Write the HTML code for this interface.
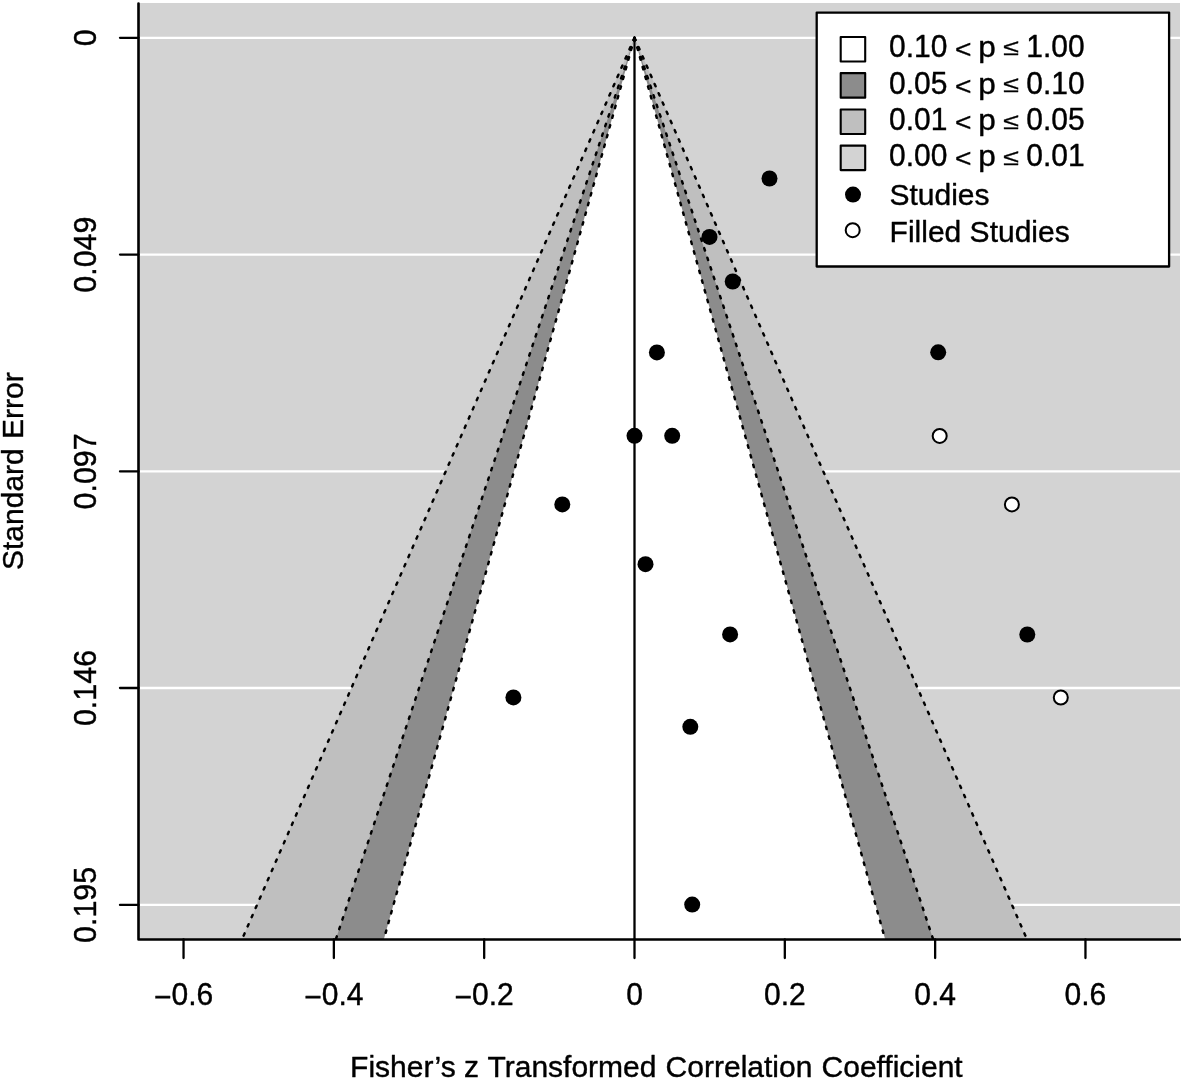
<!DOCTYPE html>
<html><head><meta charset="utf-8"><title>Funnel plot</title>
<style>
html,body{margin:0;padding:0;background:#fff;}
body{width:1181px;height:1078px;overflow:hidden;}
svg{display:block;will-change:transform;}
text{font-family:"Liberation Sans",sans-serif;font-size:30px;fill:#000;stroke:#000;stroke-width:0.4px;stroke-linejoin:round;}
</style></head><body>
<svg width="1181" height="1078" viewBox="0 0 1181 1078">
<rect x="0" y="0" width="1181" height="1078" fill="#fff"/>
<rect x="138.5" y="3" width="1041.5" height="936.3" fill="#d3d3d3"/>
<line x1="138.5" y1="37.8" x2="1180" y2="37.8" stroke="#fff" stroke-width="2.3"/>
<line x1="138.5" y1="254.6" x2="1180" y2="254.6" stroke="#fff" stroke-width="2.3"/>
<line x1="138.5" y1="471.4" x2="1180" y2="471.4" stroke="#fff" stroke-width="2.3"/>
<line x1="138.5" y1="688" x2="1180" y2="688" stroke="#fff" stroke-width="2.3"/>
<line x1="138.5" y1="904.9" x2="1180" y2="904.9" stroke="#fff" stroke-width="2.3"/>
<polygon points="634.5,37.8 242.01,939.3 1026.99,939.3" fill="#bfbfbf"/>
<polygon points="634.5,37.8 335.84,939.3 933.16,939.3" fill="#8c8c8c"/>
<polygon points="634.5,37.8 383.86,939.3 885.14,939.3" fill="#ffffff"/>
<line x1="634.5" y1="37.8" x2="242.01" y2="939.3" stroke="#000" stroke-width="2.45" stroke-dasharray="2.52 7.55" stroke-linecap="round"/>
<line x1="634.5" y1="37.8" x2="1026.99" y2="939.3" stroke="#000" stroke-width="2.45" stroke-dasharray="2.52 7.55" stroke-linecap="round"/>
<line x1="634.5" y1="37.8" x2="335.84" y2="939.3" stroke="#000" stroke-width="2.45" stroke-dasharray="2.52 7.55" stroke-linecap="round"/>
<line x1="634.5" y1="37.8" x2="933.16" y2="939.3" stroke="#000" stroke-width="2.45" stroke-dasharray="2.52 7.55" stroke-linecap="round"/>
<line x1="634.5" y1="37.8" x2="383.86" y2="939.3" stroke="#000" stroke-width="2.45" stroke-dasharray="2.52 7.55" stroke-linecap="round"/>
<line x1="634.5" y1="37.8" x2="885.14" y2="939.3" stroke="#000" stroke-width="2.45" stroke-dasharray="2.52 7.55" stroke-linecap="round"/>
<line x1="634.5" y1="37.8" x2="634.5" y2="939.3" stroke="#000" stroke-width="2.3"/>
<path d="M138.5,3.6 L138.5,939.45 L1180,939.45" fill="none" stroke="#000" stroke-width="2.6" stroke-linejoin="round" stroke-linecap="round"/>
<line x1="120" y1="37.8" x2="138.5" y2="37.8" stroke="#000" stroke-width="2.3" stroke-linecap="round"/>
<line x1="120" y1="254.6" x2="138.5" y2="254.6" stroke="#000" stroke-width="2.3" stroke-linecap="round"/>
<line x1="120" y1="471.4" x2="138.5" y2="471.4" stroke="#000" stroke-width="2.3" stroke-linecap="round"/>
<line x1="120" y1="688" x2="138.5" y2="688" stroke="#000" stroke-width="2.3" stroke-linecap="round"/>
<line x1="120" y1="904.9" x2="138.5" y2="904.9" stroke="#000" stroke-width="2.3" stroke-linecap="round"/>
<line x1="183.54" y1="939.3" x2="183.54" y2="958" stroke="#000" stroke-width="2.3" stroke-linecap="round"/>
<line x1="333.86" y1="939.3" x2="333.86" y2="958" stroke="#000" stroke-width="2.3" stroke-linecap="round"/>
<line x1="484.18" y1="939.3" x2="484.18" y2="958" stroke="#000" stroke-width="2.3" stroke-linecap="round"/>
<line x1="634.50" y1="939.3" x2="634.50" y2="958" stroke="#000" stroke-width="2.3" stroke-linecap="round"/>
<line x1="784.82" y1="939.3" x2="784.82" y2="958" stroke="#000" stroke-width="2.3" stroke-linecap="round"/>
<line x1="935.14" y1="939.3" x2="935.14" y2="958" stroke="#000" stroke-width="2.3" stroke-linecap="round"/>
<line x1="1085.46" y1="939.3" x2="1085.46" y2="958" stroke="#000" stroke-width="2.3" stroke-linecap="round"/>
<text transform="translate(153.93,1007.85) scale(1,1.06)" text-anchor="start">−</text>
<text transform="translate(171.45,1005.15) scale(1,1.02)" text-anchor="start">0.6</text>
<text transform="translate(304.25,1007.85) scale(1,1.06)" text-anchor="start">−</text>
<text transform="translate(321.77,1005.15) scale(1,1.02)" text-anchor="start">0.4</text>
<text transform="translate(454.57,1007.85) scale(1,1.06)" text-anchor="start">−</text>
<text transform="translate(472.09,1005.15) scale(1,1.02)" text-anchor="start">0.2</text>
<text transform="translate(634.5,1005.15) scale(1,1.02)" text-anchor="middle">0</text>
<text transform="translate(784.82,1005.15) scale(1,1.02)" text-anchor="middle">0.2</text>
<text transform="translate(935.14,1005.15) scale(1,1.02)" text-anchor="middle">0.4</text>
<text transform="translate(1085.46,1005.15) scale(1,1.02)" text-anchor="middle">0.6</text>
<text transform="translate(95.5,37.8) rotate(-90) scale(1.015,1.02)" text-anchor="middle">0</text>
<text transform="translate(95.5,254.6) rotate(-90) scale(1.015,1.02)" text-anchor="middle">0.049</text>
<text transform="translate(95.5,471.4) rotate(-90) scale(1.015,1.02)" text-anchor="middle">0.097</text>
<text transform="translate(95.5,688) rotate(-90) scale(1.015,1.02)" text-anchor="middle">0.146</text>
<text transform="translate(95.5,904.9) rotate(-90) scale(1.015,1.02)" text-anchor="middle">0.195</text>
<text transform="translate(350.04,1076.90) scale(1,0.995)" xml:space="preserve">F</text><text transform="translate(368.45,1076.90) scale(1,0.985)" xml:space="preserve">isher’s z </text><text transform="translate(487.43,1076.90) scale(1,0.995)" xml:space="preserve">T</text><text transform="translate(504.73,1076.90) scale(1,0.985)" xml:space="preserve">ransformed </text><text transform="translate(665.60,1076.90) scale(1,0.995)" xml:space="preserve">C</text><text transform="translate(687.36,1076.90) scale(1,0.985)" xml:space="preserve">orrelation </text><text transform="translate(821.43,1076.90) scale(1,0.995)" xml:space="preserve">C</text><text transform="translate(843.21,1076.90) scale(1,0.985)" xml:space="preserve">oefficient</text>
<text transform="translate(22.70,570.12) rotate(-90) scale(1,0.995)" xml:space="preserve">S</text><text transform="translate(22.70,549.97) rotate(-90) scale(1,0.985)" xml:space="preserve">tandard </text><text transform="translate(22.70,439.07) rotate(-90) scale(1,0.995)" xml:space="preserve">E</text><text transform="translate(22.70,418.90) rotate(-90) scale(1,0.985)" xml:space="preserve">rror</text>
<circle cx="769.5" cy="178.5" r="8" fill="#000"/>
<circle cx="709.5" cy="236.9" r="8" fill="#000"/>
<circle cx="732.7" cy="281.5" r="8" fill="#000"/>
<circle cx="656.9" cy="352.4" r="8" fill="#000"/>
<circle cx="938.2" cy="352.3" r="8" fill="#000"/>
<circle cx="634.5" cy="435.8" r="8" fill="#000"/>
<circle cx="672.2" cy="435.8" r="8" fill="#000"/>
<circle cx="562.3" cy="504.4" r="8" fill="#000"/>
<circle cx="645.5" cy="564.2" r="8" fill="#000"/>
<circle cx="730.1" cy="634.4" r="8" fill="#000"/>
<circle cx="1027.3" cy="634.5" r="8" fill="#000"/>
<circle cx="513.4" cy="697.4" r="8" fill="#000"/>
<circle cx="690.3" cy="726.8" r="8" fill="#000"/>
<circle cx="692.2" cy="904.6" r="8" fill="#000"/>
<circle cx="939.7" cy="435.9" r="7" fill="#fff" stroke="#000" stroke-width="2"/>
<circle cx="1011.9" cy="504.4" r="7" fill="#fff" stroke="#000" stroke-width="2"/>
<circle cx="1060.8" cy="697.5" r="7" fill="#fff" stroke="#000" stroke-width="2"/>
<rect x="816.7" y="12.6" width="352.4" height="253.9" fill="#fff" stroke="#000" stroke-width="2.3" stroke-linejoin="round"/>
<rect x="840.7" y="37" width="24.5" height="24.5" fill="#ffffff" stroke="#000" stroke-width="2.1" stroke-linejoin="round"/>
<text transform="translate(889.1,56.7) scale(1,1.035)" text-anchor="start">0.10</text>
<text transform="translate(955.1,57.6) scale(0.94,0.87)" text-anchor="start">&lt;</text>
<text transform="translate(978.2,56.7) scale(1.05,0.96)" text-anchor="start">p</text>
<text transform="translate(1003,55.3) scale(0.96,0.76)" text-anchor="start">≤</text>
<text transform="translate(1026.2,56.7) scale(1,1.035)" text-anchor="start">1.00</text>
<rect x="840.7" y="73.15" width="24.5" height="24.5" fill="#8c8c8c" stroke="#000" stroke-width="2.1" stroke-linejoin="round"/>
<text transform="translate(889.1,93.7) scale(1,1.035)" text-anchor="start">0.05</text>
<text transform="translate(955.1,94.6) scale(0.94,0.87)" text-anchor="start">&lt;</text>
<text transform="translate(978.2,93.7) scale(1.05,0.96)" text-anchor="start">p</text>
<text transform="translate(1003,92.3) scale(0.96,0.76)" text-anchor="start">≤</text>
<text transform="translate(1026.2,93.7) scale(1,1.035)" text-anchor="start">0.10</text>
<rect x="840.7" y="109.45" width="24.5" height="24.5" fill="#bfbfbf" stroke="#000" stroke-width="2.1" stroke-linejoin="round"/>
<text transform="translate(889.1,130.1) scale(1,1.035)" text-anchor="start">0.01</text>
<text transform="translate(955.1,131) scale(0.94,0.87)" text-anchor="start">&lt;</text>
<text transform="translate(978.2,130.1) scale(1.05,0.96)" text-anchor="start">p</text>
<text transform="translate(1003,128.7) scale(0.96,0.76)" text-anchor="start">≤</text>
<text transform="translate(1026.2,130.1) scale(1,1.035)" text-anchor="start">0.05</text>
<rect x="840.7" y="145.6" width="24.5" height="24.5" fill="#d3d3d3" stroke="#000" stroke-width="2.1" stroke-linejoin="round"/>
<text transform="translate(889.1,166.2) scale(1,1.035)" text-anchor="start">0.00</text>
<text transform="translate(955.1,167.1) scale(0.94,0.87)" text-anchor="start">&lt;</text>
<text transform="translate(978.2,166.2) scale(1.05,0.96)" text-anchor="start">p</text>
<text transform="translate(1003,164.8) scale(0.96,0.76)" text-anchor="start">≤</text>
<text transform="translate(1026.2,166.2) scale(1,1.035)" text-anchor="start">0.01</text>
<circle cx="853" cy="194.6" r="8" fill="#000"/>
<text transform="translate(889.50,205.40) scale(1,0.995)" xml:space="preserve">S</text><text transform="translate(909.50,205.40) scale(1,0.985)" xml:space="preserve">tudies</text>
<circle cx="852.7" cy="230.2" r="7" fill="#fff" stroke="#000" stroke-width="2"/>
<text transform="translate(889.60,241.50) scale(1,0.995)" xml:space="preserve">F</text><text transform="translate(907.91,241.50) scale(1,0.985)" xml:space="preserve">illed </text><text transform="translate(969.62,241.50) scale(1,0.995)" xml:space="preserve">S</text><text transform="translate(989.63,241.50) scale(1,0.985)" xml:space="preserve">tudies</text>
</svg>
</body></html>
